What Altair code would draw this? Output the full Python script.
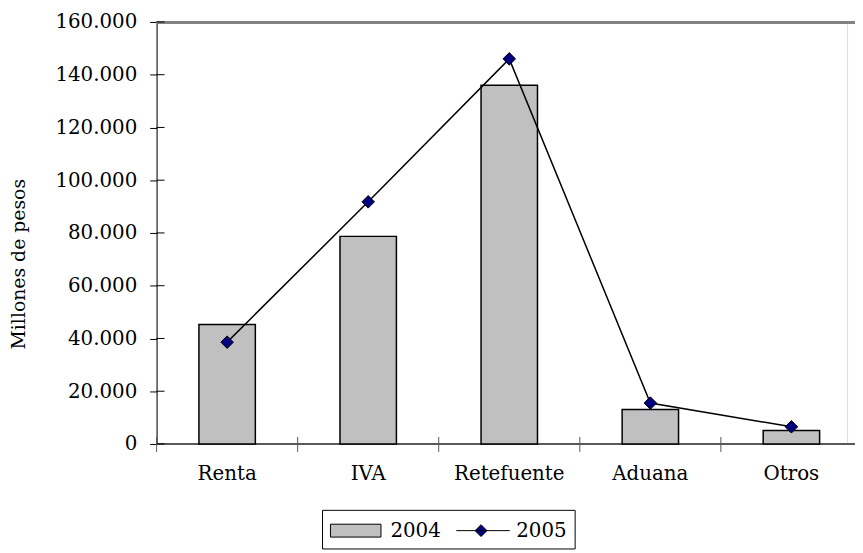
import altair as alt
import pandas as pd

categorias = ["Renta", "IVA", "Retefuente", "Aduana", "Otros"]
valores_2004 = [45300, 78700, 136000, 13100, 5100]
valores_2005 = [38600, 91800, 146000, 15500, 6500]
series = ["2004", "2005"]
y_ticks = [0, 20000, 40000, 60000, 80000, 100000, 120000, 140000, 160000]

df_bar = pd.DataFrame({"categoria": categorias, "valor": valores_2004})
df_line = pd.DataFrame({"categoria": categorias, "valor": valores_2005})
df_ticks = pd.DataFrame({"valor": y_ticks})
df_cat = pd.DataFrame({"categoria": categorias})
df_series = pd.DataFrame({"serie": series})

FONT = "DejaVu Serif"
W, H = 697, 426
XR = 712
STEP = XR / 5.0

x_scale = alt.Scale(domain=categorias, range=[0, XR], paddingInner=0.6, paddingOuter=0.3)
y_scale = alt.Scale(domain=[0, 160000], nice=False)

rect_path = "M-1,-0.52H3.08V0.52H-1Z"
line_path = "M-1,0H3.32M1,-0.48L1.48,0L1,0.48L0.52,0Z"

legend = alt.Legend(
    title=None, orient="none", legendX=167, legendY=492.5, direction="horizontal",
    symbolSize=625, labelOffset=35, columnPadding=13, padding=8,
    strokeColor="black", cornerRadius=0,
    labelFont=FONT, labelFontSize=20, labelColor="black",
    symbolOpacity=1, symbolStrokeColor="black", symbolStrokeWidth=1,
)

y_axis = alt.Axis(
    values=y_ticks, labelExpr="replace(format(datum.value, ','), ',', '.')",
    tickSize=7, labelPadding=13, domainColor="black", tickColor="black",
    labelFont=FONT, labelFontSize=20, labelColor="black",
    title="Millones de pesos", titleFont=FONT, titleFontSize=19, titleFontWeight="normal",
    titleColor="black", titleX=-139, titleY=244, titleBaseline="middle", titleAlign="center",
    grid=False,
)

x_axis = alt.Axis(
    orient="bottom", title=None, domain=False, ticks=False, tickSize=8, labelPadding=20,
    labelAngle=0, labelFont=FONT, labelFontSize=20, labelColor="black", grid=False,
)

# frame lines: bottom axis line and top border (run to the window edge)
bottom_line = alt.Chart(df_cat).mark_rule(color="#555555", strokeWidth=1).encode(
    x=alt.value(0), x2=alt.value(W + 8), y=alt.value(H),
)
top_line = alt.Chart(df_cat).mark_rule(color="#808080", strokeWidth=2).encode(
    x=alt.value(0), x2=alt.value(W + 8), y=alt.value(0.5),
)

bars = alt.Chart(df_bar).mark_bar(fill="#c0c0c0", stroke="black", strokeWidth=1.5).encode(
    x=alt.X("categoria:N", scale=x_scale, sort=categorias, axis=x_axis),
    y=alt.Y("valor:Q", scale=y_scale, axis=y_axis),
)

line = alt.Chart(df_line).mark_line(color="black", strokeWidth=1.5).encode(
    x=alt.X("categoria:N", scale=x_scale, sort=categorias, axis=None),
    y=alt.Y("valor:Q", scale=y_scale, axis=y_axis),
)

points = alt.Chart(df_line).mark_point(
    shape="diamond", filled=True, fill="#000080", stroke="black", strokeWidth=1, size=160, opacity=1
).encode(
    x=alt.X("categoria:N", scale=x_scale, sort=categorias, axis=None),
    y=alt.Y("valor:Q", scale=y_scale, axis=y_axis),
)

yin = alt.Chart(df_ticks).mark_rule(color="black", strokeWidth=1).encode(
    y=alt.Y("valor:Q", scale=y_scale, axis=y_axis),
    x=alt.value(0), x2=alt.value(8),
)

xticks = alt.Chart(df_cat).mark_rule(color="#555555", strokeWidth=1, xOffset=-0.3 * STEP).encode(
    x=alt.X("categoria:N", scale=x_scale, sort=categorias, bandPosition=0, axis=None),
    y=alt.value(H - 7), y2=alt.value(H + 8),
)

# legend carrier: one entry per series, symbols taken from the shape/fill/stroke scales
legend_layer = alt.Chart(df_series).mark_point(
    filled=True, strokeWidth=1, opacity=0, size=625
).encode(
    fill=alt.Fill("serie:N", scale=alt.Scale(domain=series, range=["#c0c0c0", "#000080"]), legend=legend),
    shape=alt.Shape("serie:N", scale=alt.Scale(domain=series, range=[rect_path, line_path]), legend=legend),
    stroke=alt.Stroke("serie:N", scale=alt.Scale(domain=series, range=["#000000", "#000000"]), legend=legend),
    x=alt.value(0), y=alt.value(0),
)

chart = alt.layer(
    bottom_line, top_line, bars, line, points, yin, xticks, legend_layer
).resolve_axis(x="independent").properties(
    width=W, height=H,
    autosize=alt.AutoSizeParams(type="none"),
    padding={"left": 150, "top": 11.5, "right": 8, "bottom": 108},
).configure_view(strokeWidth=0).configure(font=FONT)

chart.save("out.html", embed_options={"renderer": "svg", "actions": False})
